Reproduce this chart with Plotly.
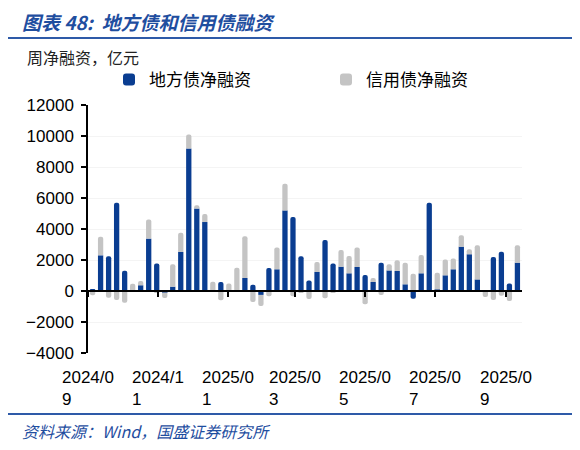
import pandas as pd
import plotly.graph_objects as go

# weekly net financing, 100m yuan
weeks = pd.date_range("2024-09-05", periods=54, freq="7D")

local_bond = [
    100, 2300, 2240, 5700, 1300, 50, 370, 3380, 1780, -100,
    280, 2520, 9200, 5320, 4450, 30, 580, 0, 50, 840,
    410, -250, 1480, 1400, 5200, 4770, 2240, 670, 1230, 3290,
    1780, 1570, 1140, 1550, 1030, 580, 1830, 1330, 1290, 430,
    -500, 1140, 5700, 100, 1010, 1400, 2860, 2370, 750, 0,
    2190, 2540, 490, 1830,
]
credit_bond = [
    -280, 1200, -430, -580, -750, 420, 280, 1240, -100, -350,
    1440, 1240, 900, 210, 520, 570, -600, 480, 1450, 2690,
    -710, -710, -340, 1400, 1720, -340, -100, -520, 640, -470,
    -100, 1070, 1120, 1250, -860, 260, -260, 390, 690, 1400,
    1120, 1180, 0, 1080, 1030, 690, 730, 320, 2200, -390,
    -580, -300, -650, 1120,
]

tick_dates = ["2024-09-01", "2024-11-01", "2025-01-01", "2025-03-01",
              "2025-05-01", "2025-07-01", "2025-09-01"]
tick_labels = ["2024/09", "2024/11", "2025/01", "2025/03",
               "2025/05", "2025/07", "2025/09"]

BLUE = "#0A3D91"
GREY = "#C4C4C4"
TEXT_BLUE = "#1F4E9F"

# page has an 8px body margin, so the figure is shrunk to fit the 580x450 window
OFF = 8
W, H = 580 - OFF, 450 - OFF
L, R, T, B = 88 - OFF, 58, 105 - OFF, 97
PW, PH = W - L - R, H - T - B


def px(x):
    # page pixel -> paper x
    return (x - OFF - L) / PW


def py(y):
    # page pixel -> paper y
    return (H - B - (y - OFF)) / PH


fig = go.Figure()
fig.add_trace(go.Bar(x=weeks, y=local_bond, name="地方债净融资",
                     marker=dict(color=BLUE, line_width=0)))
fig.add_trace(go.Bar(x=weeks, y=credit_bond, name="信用债净融资",
                     marker=dict(color=GREY, line_width=0)))

annotations = [
    dict(text="<b><i>图表 48:  地方债和信用债融资</i></b>", x=px(20), y=py(22),
         xanchor="left", yanchor="middle",
         font=dict(size=19, color=TEXT_BLUE, family="Noto Sans CJK SC")),
    dict(text="周净融资，亿元", x=px(25), y=py(57),
         xanchor="left", yanchor="middle",
         font=dict(size=16, color="#222222", family="Noto Sans CJK SC")),
    dict(text="<i>资料来源：Wind，国盛证券研究所</i>", x=px(20), y=py(431),
         xanchor="left", yanchor="middle",
         font=dict(size=16, color=TEXT_BLUE, family="Noto Sans CJK SC")),
]
for d, lab in zip(tick_dates, tick_labels):
    annotations.append(dict(
        text=lab[:-1] + "<br>" + lab[-1], x=d, xref="x", y=py(366), yref="paper",
        xanchor="center", yanchor="top", align="left",
        font=dict(size=17, color="black", family="Liberation Sans"),
    ))
for a in annotations:
    a.setdefault("xref", "paper")
    a.setdefault("yref", "paper")
    a["showarrow"] = False

line_style = dict(color="#2E5AA8", width=2)
shapes = [
    dict(type="line", xref="paper", yref="paper", x0=px(OFF), x1=px(580),
         y0=py(38), y1=py(38), line=line_style),
    dict(type="line", xref="paper", yref="paper", x0=px(OFF), x1=px(580),
         y0=py(414), y1=py(414), line=line_style),
]

fig.update_layout(
    width=W, height=H,
    margin=dict(l=L, r=R, t=T, b=B, autoexpand=False),
    barmode="relative",
    bargap=0.34,
    barcornerradius=3,
    plot_bgcolor="white",
    paper_bgcolor="white",
    font=dict(family="Liberation Sans", size=17, color="black"),
    showlegend=True,
    legend=dict(orientation="h", x=px(109), y=py(80), xanchor="left", yanchor="middle",
                entrywidth=172, font=dict(size=17, family="Noto Sans CJK SC"),
                bgcolor="rgba(0,0,0,0)"),
    annotations=annotations,
    shapes=shapes,
)
fig.update_xaxes(
    type="date", range=["2024-09-01", "2025-09-15"],
    anchor="free", position=0.25, automargin=False,
    showline=True, linecolor="black", linewidth=1.5,
    ticks="outside", ticklen=5, tickcolor="black", tickwidth=1.5,
    tickvals=tick_dates, showticklabels=False, showgrid=False, zeroline=False,
)
fig.update_yaxes(
    range=[-4000, 12000], dtick=2000, tickformat="d", automargin=False,
    showline=True, linecolor="black", linewidth=1.5,
    ticks="outside", ticklen=5, tickcolor="black", tickwidth=1.5,
    showgrid=True, gridcolor="#F4F4F4", zeroline=False,
    ticklabelstandoff=4,
)

fig.write_html("out.html")
